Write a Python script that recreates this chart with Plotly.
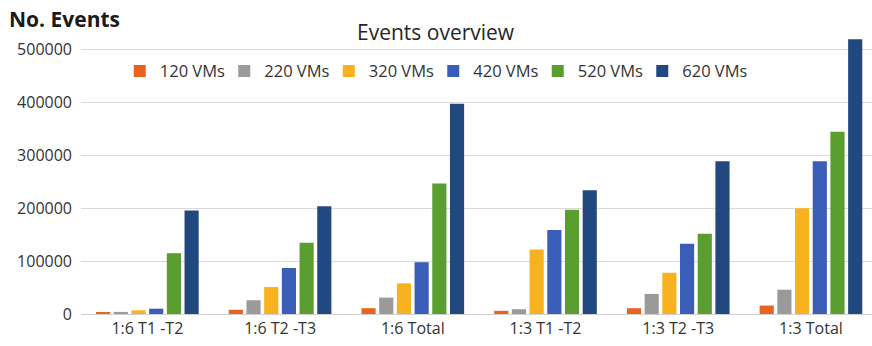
import plotly.graph_objects as go

# Categories (intervals) on the x axis
categories = ["1:6 T1 -T2", "1:6 T2 -T3", "1:6 Total", "1:3 T1 -T2", "1:3 T2 -T3", "1:3 Total"]

# Number of events per VM count
vm120 = [2000, 8000, 11000, 6000, 11000, 16000]
vm220 = [4000, 26000, 31000, 9000, 38000, 46000]
vm320 = [7000, 51000, 58000, 122000, 78000, 200000]
vm420 = [10000, 87000, 98000, 159000, 133000, 289000]
vm520 = [115000, 135000, 247000, 197000, 152000, 345000]
vm620 = [196000, 204000, 398000, 234000, 289000, 520000]

series_names = ["120 VMs", "220 VMs", "320 VMs", "420 VMs", "520 VMs", "620 VMs"]
series_values = [vm120, vm220, vm320, vm420, vm520, vm620]
colors = ["#E8631F", "#9A9A9A", "#F8B220", "#3A5EB8", "#5A9E2F", "#224880"]

tick_vals = [0, 100000, 200000, 300000, 400000, 500000]
tick_text = ["0", "100000", "200000", "300000", "400000", "500000"]

FONT = "Open Sans"
TEXT = "#333333"

fig = go.Figure()
for name, vals, col in zip(series_names, series_values, colors):
    fig.add_trace(go.Bar(x=categories, y=vals, name=name, marker=dict(color=col, line=dict(width=0))))

fig.update_layout(
    width=872,
    height=346,
    margin=dict(l=81, r=0, t=18, b=32),
    paper_bgcolor="white",
    plot_bgcolor="white",
    barmode="group",
    bargap=0.2,
    bargroupgap=0.2,
    font=dict(family=FONT, size=16, color=TEXT),
    showlegend=True,
    legend=dict(
        orientation="h",
        x=0.049,
        y=0.82,
        xanchor="left",
        yanchor="middle",
        font=dict(family=FONT, size=16.5, color=TEXT),
        bgcolor="rgba(0,0,0,0)",
        entrywidth=59.5,
        itemwidth=30,
        traceorder="normal",
    ),
    xaxis=dict(
        type="category",
        range=[-0.5, 5.46],
        showgrid=False,
        showline=True,
        linecolor="#d0d0d0",
        linewidth=1,
        ticks="",
        tickfont=dict(family=FONT, size=16, color=TEXT),
        fixedrange=True,
    ),
    yaxis=dict(
        range=[0, 560000],
        tickvals=tick_vals,
        ticktext=tick_text,
        showgrid=True,
        gridcolor="#d9d9d9",
        gridwidth=1,
        zeroline=False,
        showline=False,
        ticks="",
        ticklabelstandoff=8,
        tickfont=dict(family=FONT, size=16, color=TEXT),
        fixedrange=True,
    ),
    annotations=[
        dict(
            text="Events overview",
            xref="paper", yref="paper",
            x=0.449, y=0.952,
            xanchor="center", yanchor="middle",
            showarrow=False,
            font=dict(family=FONT, size=21, color="#262626"),
        ),
        dict(
            text="<b>No. Events</b>",
            xref="paper", yref="paper",
            x=-0.093, y=0.995,
            xanchor="left", yanchor="middle",
            showarrow=False,
            font=dict(family=FONT, size=21, color="#1a1a1a"),
        ),
    ],
)

fig.write_html("out.html")
